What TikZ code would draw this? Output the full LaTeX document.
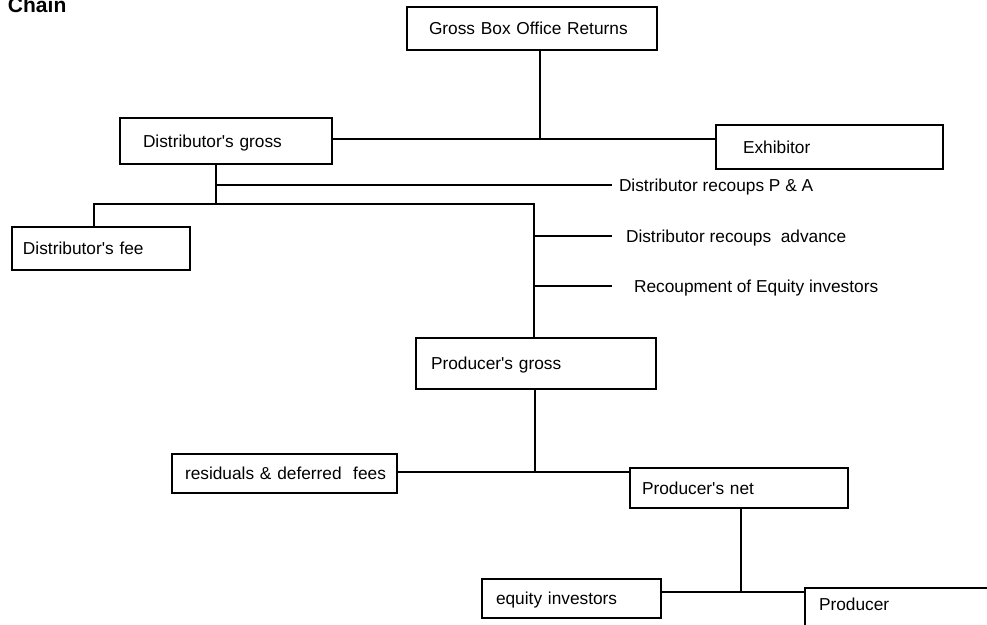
\documentclass[tikz,border=0pt]{standalone}
\usepackage{fontspec}
\setmainfont{Liberation Sans}[Ligatures=TeXOff]
\begin{document}
\begin{tikzpicture}[x=1pt,y=-1pt,
  every node/.style={font=\fontsize{17.3}{20}\selectfont, text height=12.4pt, text depth=0pt, outer sep=0pt},
  box/.style={draw, line width=1.4pt, anchor=north west, align=left, inner ysep=0pt},
  lbl/.style={anchor=west, inner ysep=0pt},
  conn/.style={draw, line width=1.4pt, line join=miter}]
\useasboundingbox (0,0) rectangle (987,624);
\clip (0,0) rectangle (987,624);
\fill[white] (0,0) rectangle (987,624);
% title
\node[anchor=base west, inner sep=0pt, font=\fontsize{21}{24}\selectfont\bfseries] (title) at (8,12) {Chain};
% boxes
\node[box, inner xsep=22pt, text width=206pt, minimum height=43pt] (gbo) at (407,7) {\mbox{Gross Box Office Returns}};
\node[box, inner xsep=23pt, text width=166pt, minimum height=46pt] (dg) at (120,118) {\mbox{Distributor's gross}};
\node[box, inner xsep=27pt, text width=173pt, minimum height=44pt] (ex) at (716,125) {\mbox{Exhibitor}};
\node[box, inner xsep=11pt, text width=156pt, minimum height=43pt] (df) at (12,227) {\mbox{Distributor's fee}};
\node[box, inner xsep=15pt, text width=210pt, minimum height=51pt] (pg) at (416,338) {\mbox{Producer's gross}};
\node[box, inner xsep=13pt, text width=199pt, minimum height=39pt] (res) at (172,454) {\mbox{residuals \& deferred\ \ fees}};
\node[box, inner xsep=12pt, text width=194pt, minimum height=40pt] (pn) at (630,468) {\mbox{Producer's net}};
\node[box, inner xsep=14pt, text width=151pt, minimum height=39pt] (eq) at (482,579) {\mbox{equity investors}};
\node[box, inner xsep=14pt, text width=172pt, inner ysep=10pt, text depth=40pt] (pr) at (805,588) {\mbox{Producer}};
% labels
\node[lbl, inner xsep=7pt] (pa) at (612,185) {Distributor recoups P \& A};
\node[lbl, inner xsep=14pt] (adv) at (612,236) {Distributor recoups\ \ advance};
\node[lbl, inner xsep=22pt] (rec) at (612,286) {Recoupment of Equity investors};
% junction coordinates
\coordinate (jr) at (540,139);
\coordinate (d1) at (216,185);
\coordinate (d2) at (216,204);
\coordinate (dl) at (94,204);
\coordinate (dr) at (534,204);
\coordinate (a1) at (534,236);
\coordinate (a2) at (534,286);
\coordinate (p1) at (535,472);
\coordinate (q1) at (741,592);
% connectors
\draw[conn] (jr |- gbo.south) -- (jr);
\draw[conn] (dg.east |- jr) -- (ex.west |- jr);
\draw[conn] (d2 |- dg.south) -- (d2);
\draw[conn] (d1) -- (pa.west);
\draw[conn] (dl |- df.north) -- (dl) -- (dr) -- (dr |- pg.north);
\draw[conn] (a1) -- (adv.west);
\draw[conn] (a2) -- (rec.west);
\draw[conn] (p1 |- pg.south) -- (p1);
\draw[conn] (res.east |- p1) -- (pn.west |- p1);
\draw[conn] (q1 |- pn.south) -- (q1);
\draw[conn] (eq.east |- q1) -- (pr.west |- q1);
\end{tikzpicture}
\end{document}
